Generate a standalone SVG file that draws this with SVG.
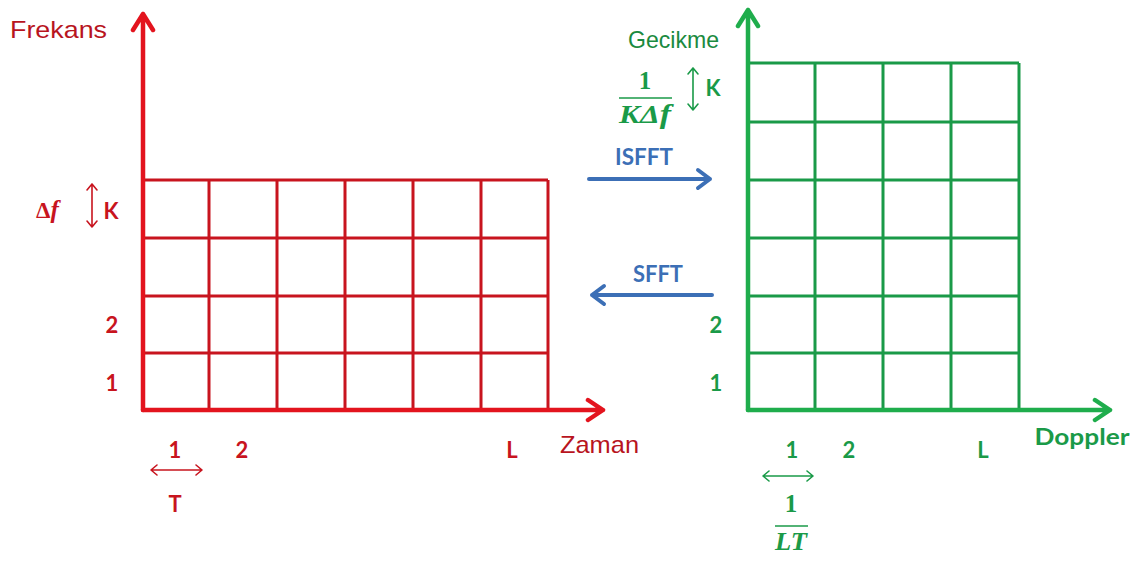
<svg xmlns="http://www.w3.org/2000/svg" width="1139" height="563" viewBox="0 0 1139 563">
<style>
.rax{stroke:#e3141e;stroke-width:4.5;fill:none;stroke-linecap:round;stroke-linejoin:round}
.rgrid{stroke:#c8141e;stroke-width:3;fill:none}
.gax{stroke:#1fad4c;stroke-width:4.5;fill:none;stroke-linecap:round;stroke-linejoin:round}
.ggrid{stroke:#1a9a48;stroke-width:3;fill:none}
.blue{stroke:#3c6fb6;stroke-width:4;fill:none;stroke-linecap:round;stroke-linejoin:round}
.thinr{stroke:#c8141e;stroke-width:1.6;fill:none;stroke-linecap:round;stroke-linejoin:round}
.thing{stroke:#1a9a48;stroke-width:1.6;fill:none;stroke-linecap:round;stroke-linejoin:round}
.lab{font-family:Lato,"Open Sans","Liberation Sans",sans-serif;font-weight:bold;font-size:22px;text-anchor:middle}
.rt{fill:#c8141e}
.gt{fill:#1a9a48}
.bt{fill:#3c6fb6}
.plain{font-family:"Liberation Sans",Arial,sans-serif;font-size:24px}
.math{font-family:"Liberation Serif","DejaVu Serif",serif;font-weight:bold;font-size:25px;text-anchor:middle}
</style>

<g id="connectors">
<path class="blue" d="M589,179 L710,179 M698,170 L710,179 L698,188"/>
<path class="blue" d="M712,295 L592,295 M604,286 L592,295 L604,304"/>
</g>

<g id="left-grid">
<path class="rgrid" d="M143,180 H548 M143,238 H548 M143,296 H548 M143,353 H548 M209,180 V410 M277,180 V410 M345,180 V410 M413,180 V410 M481,180 V410 M548,180 V410"/>
<path class="rax" d="M143,410 V14 M133,30 L143,14 L153,30"/>
<path class="rax" d="M143,410 H603 M588,400 L603,410 L588,420"/>
</g>

<g id="left-labels">
<text class="plain" x="10" y="38" fill="#b8141e" font-size="25" textLength="97" lengthAdjust="spacingAndGlyphs">Frekans</text>
<text class="rt" x="36" y="218" font-family="Liberation Serif,DejaVu Serif,serif" font-weight="bold" font-size="23">Δ<tspan font-style="italic" font-size="25">f</tspan></text>
<path class="thinr" d="M92,184 V227 M87,190 L92,184 L97,190 M87,221 L92,227 L97,221"/>
<text class="lab rt" x="111" y="219">K</text>
<text class="lab rt" x="112" y="333">2</text>
<text class="lab rt" x="112" y="391">1</text>
<text class="lab rt" x="175" y="458">1</text>
<text class="lab rt" x="242" y="458">2</text>
<text class="lab rt" x="512" y="458">L</text>
<text class="plain" x="560" y="453" fill="#b8141e" font-size="25" textLength="79" lengthAdjust="spacingAndGlyphs">Zaman</text>
<path class="thinr" d="M151,470 H202 M157,465 L151,470 L157,475 M196,465 L202,470 L196,475"/>
<text class="lab rt" x="175" y="512">T</text>
</g>

<g id="right-grid">
<path class="ggrid" d="M748,63 H1019 M748,122 H1019 M748,180 H1019 M748,238 H1019 M748,296 H1019 M748,353 H1019 M815,63 V410 M883,63 V410 M951,63 V410 M1019,63 V410"/>
<path class="gax" d="M748,410 V10 M738,26 L748,10 L758,26"/>
<path class="gax" d="M748,410 H1110 M1095,400 L1110,410 L1095,420"/>
</g>

<g id="right-labels">
<text class="plain" x="628" y="48" fill="#1a8a40" font-size="19" textLength="91" lengthAdjust="spacingAndGlyphs">Gecikme</text>
<text class="math gt" x="645" y="89">1</text>
<path d="M619,98 H672" stroke="#1a9a48" stroke-width="1.6"/>
<text class="math gt" x="645" y="123" font-style="italic" textLength="52" lengthAdjust="spacingAndGlyphs">KΔ<tspan font-size="27">f</tspan></text>
<path class="thing" d="M693,68 V110 M688,74 L693,68 L698,74 M688,104 L693,110 L698,104"/>
<text class="lab gt" x="713" y="96">K</text>
<text class="lab gt" x="716" y="333">2</text>
<text class="lab gt" x="716" y="391">1</text>
<text class="lab gt" x="792" y="458">1</text>
<text class="lab gt" x="849" y="458">2</text>
<text class="lab gt" x="983" y="458">L</text>
<text class="lab gt" x="1082" y="445" font-size="24" textLength="95" lengthAdjust="spacingAndGlyphs">Doppler</text>
<path class="thing" d="M763,476 H813 M769,471 L763,476 L769,481 M807,471 L813,476 L807,481"/>
<text class="math gt" x="791" y="512">1</text>
<path d="M775,526 H808" stroke="#1a9a48" stroke-width="1.6"/>
<text class="math gt" x="791" y="550" font-style="italic" textLength="32" lengthAdjust="spacingAndGlyphs">LT</text>
</g>

<g id="transform-labels">
<text class="lab bt" x="644" y="165" font-size="23" textLength="58" lengthAdjust="spacingAndGlyphs">ISFFT</text>
<text class="lab bt" x="658" y="282" font-size="23" textLength="50" lengthAdjust="spacingAndGlyphs">SFFT</text>
</g>
</svg>
